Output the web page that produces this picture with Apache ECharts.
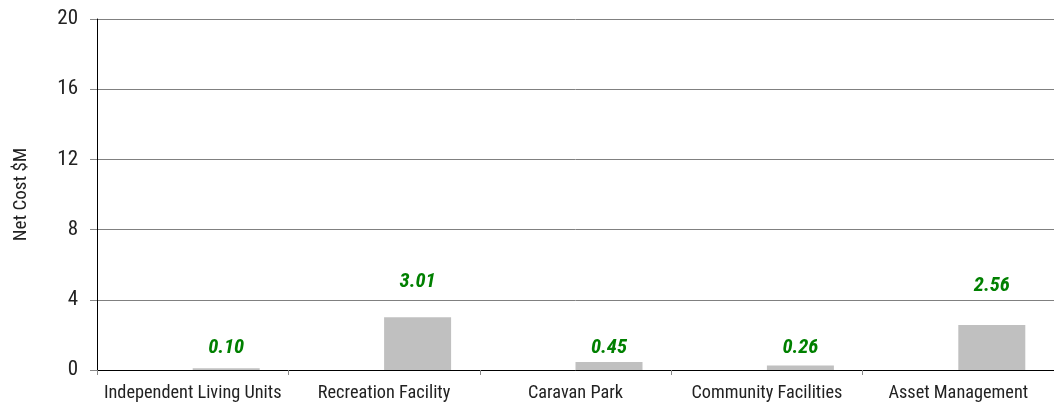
<!DOCTYPE html>
<html><head><meta charset="utf-8">
<script src="https://cdn.jsdelivr.net/npm/echarts@6/dist/echarts.min.js"></script>
<style>html,body{margin:0;padding:0;background:#fff}#c{width:1054px;height:407px}</style>
</head><body><div id="c"></div>
<script>
const categories = ['Independent Living Units','Recreation Facility','Caravan Park','Community Facilities','Asset Management'];
const netCost = [0.10, 3.01, 0.45, 0.26, 2.56];
const yTicks = [0, 4, 8, 12, 16, 20];
// label gaps above bars (styling, px)
const labelGap = [10, 25, 4, 8, 29];
const FONT = "'Roboto Condensed', 'Liberation Sans', sans-serif";
const chart = echarts.init(document.getElementById('c'));
chart.setOption({
  animation:false,
  grid:{left:97, right:0, top:19, bottom:37, containLabel:false, outerBoundsMode:'none'},
  xAxis:{type:'category', data:categories,
    axisLine:{lineStyle:{color:'#000', width:1}},
    axisTick:{show:true, length:5, lineStyle:{color:'#888'}},
    axisLabel:{color:'#222', fontFamily:FONT, fontSize:18.3, margin:14, interval:0}},
  yAxis:{type:'value', min:yTicks[0], max:yTicks[yTicks.length-1], interval:4,
    name:'Net Cost $M', nameLocation:'middle', nameGap:66, nameRotate:90,
    nameTextStyle:{color:'#222', fontFamily:FONT, fontSize:19},
    axisLine:{show:true, lineStyle:{color:'#000', width:1}},
    axisTick:{show:true, length:7, lineStyle:{color:'#888'}},
    axisLabel:{color:'#222', fontFamily:FONT, fontSize:21, margin:19},
    splitLine:{lineStyle:{color:'#808080', width:1}}},
  series:[
    {type:'bar', data:categories.map(()=>null), barWidth:67, barGap:'0%'},
    {type:'bar', barWidth:67,
      data:netCost.map((v,i)=>({value:v, label:{distance:labelGap[i]}})),
      itemStyle:{color:'#c0c0c0'},
      label:{show:true, position:'top', color:'#008000', fontFamily:FONT, fontSize:20.5,
        fontWeight:'bold', fontStyle:'italic', formatter:p=>p.value.toFixed(2)}}
  ]
});
</script></body></html>
